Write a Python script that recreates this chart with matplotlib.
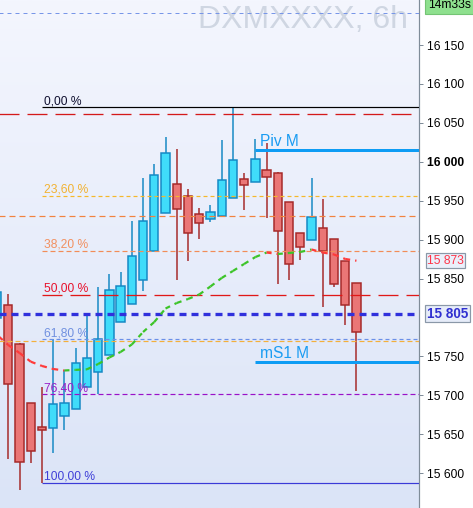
import numpy as np
import matplotlib
matplotlib.use('Agg')
import matplotlib.pyplot as plt
from matplotlib.patches import Rectangle
from matplotlib.collections import LineCollection
from matplotlib.colors import LinearSegmentedColormap

plt.rcParams['font.family'] = ['Liberation Sans', 'DejaVu Sans']
plt.rcParams['lines.scale_dashes'] = False

# ---------------- data ----------------
idx = list(range(-1, 32))
opens = [15799, 15816, 15766, 15690, 15659.5, 15658, 15673, 15682, 15711, 15730,
         15751.5, 15794, 15817, 15848, 15885, 15934, 15972, 15956, 15932.6, 15927,
         15931, 15953, 15977.5, 15974, 15989, 15985, 15948, 15908, 15899, 15914.6,
         15900.5, 15872, 15844]
highs = [15836, 15830, 15767, 15690, 15711, 15772, 15733, 15760.5, 15802, 15839,
         15856, 15858, 15924, 15979, 15997, 16031.5, 16016, 15965, 15941, 15944.5,
         16028, 16070, 15986, 16029, 16024, 15986.5, 15948, 15908, 15979, 15952,
         15900.5, 15872, 15844]
lows = [15795, 15618, 15578.5, 15613, 15588, 15626, 15655, 15682, 15711, 15702,
        15751.5, 15794, 15817, 15834.5, 15885, 15934, 15848, 15873, 15901, 15923,
        15931, 15953, 15938, 15974, 15928, 15843.5, 15848.6, 15874, 15899, 15814,
        15839, 15791, 15706]
closes = [15833, 15715, 15615, 15628, 15655, 15689, 15690, 15741, 15748, 15773,
          15836, 15840.5, 15879, 15923.6, 15983, 16011, 15939, 15908, 15922, 15935,
          15976, 16002, 15970, 16003, 15981, 15911, 15868.4, 15890, 15929, 15886,
          15843, 15816, 15781]
ma = [15777.6, 15764.7, 15754.5, 15743.3, 15737.8, 15733.9, 15732.0, 15732.8, 15733.5,
      15740.3, 15748.7, 15755.8, 15765.4, 15781.4, 15794.3, 15811.6, 15818.7, 15823.8,
      15829.6, 15839.9, 15850.8, 15859.8, 15868.8, 15877.7, 15883.5, 15881.6, 15882.9,
      15884.2, 15887.4, 15883.5, 15881.0, 15875.2, 15873.0]

fib_high = 16070
fib_low = 15588
fib_start = 3
fib_pcts = [0.0, 23.6, 38.2, 50.0, 61.8, 76.4, 100.0]
fib_labels = ['0,00 %', '23,60 %', '38,20 %', '50,00 %', '61,80 %', '76,40 %', '100,00 %']

top_level = 16191
red_level = 16061.6
orange_level = 15930
yellow_level = 15770
pivot_names = ['Piv M', 'mS1 M']
pivot_values = [16015.7, 15742.8]
pivot_start = 22
current_price = 15805
ma_last_value = 15873
price_ticks = [15600, 15650, 15700, 15750, 15850, 15900, 15950, 16000, 16050, 16100, 16150]
watermark = 'DXMXXXX, 6h'
timer = '14m33s'

# ---------------- figure ----------------
W, H = 473, 508
PX = 72 / 100.0  # points per pixel

fig = plt.figure(figsize=(W / 100, H / 100), dpi=100)
fig.patch.set_facecolor('white')
ax = fig.add_axes([0, 0, 419 / W, 1])

cmap = LinearSegmentedColormap.from_list('bg', ['#f4f6fe', '#dbe4f7'])
grad = np.linspace(0, 1, 256).reshape(-1, 1)
ax.imshow(grad, extent=[0, 1, 0, 1], transform=ax.transAxes, aspect='auto',
          cmap=cmap, zorder=0, interpolation='bilinear')

# watermark
ax.text(408 / W, 1 - 28.3 / H, watermark, transform=fig.transFigure, ha='right',
        va='baseline', fontsize=32 * PX, color='#cfd6e2', zorder=1)

XR = 40


def hline(y, x0, color, lw, dashes=None, z=5):
    ls = '-' if dashes is None else (0, tuple(d * PX for d in dashes))
    ax.plot([x0, XR], [y, y], color=color, lw=lw * PX, linestyle=ls, zorder=z,
            solid_capstyle='butt', dash_capstyle='butt')


# candles
bw = 0.74
for x, o, h, l, c in zip(idx, opens, highs, lows, closes):
    bull = c >= o
    fc = '#40dcfa' if bull else '#ea7676'
    ec = '#1488c4' if bull else '#a52828'
    ax.vlines(x, l, h, color=ec, lw=1.5 * PX, zorder=2)
    ax.add_patch(Rectangle((x - bw / 2, min(o, c)), bw, abs(c - o), fc=fc, ec=ec,
                           lw=1.5 * PX, zorder=3))

# full-width levels
hline(top_level, -2, '#7896e8', 1, (4, 4))
hline(red_level, -2, '#d41a1a', 1.3, (20, 8))
hline(orange_level, -2, '#f2823e', 1.2, (6, 4))
hline(yellow_level, -2, '#f4b03c', 1.2, (5, 3))

# fibonacci
fib_colors = ['#000000', '#f5b82a', '#f28c58', '#e01818', '#6a90e8', '#9a12c8', '#3a3ad8']
fib_text_colors = ['#101030', '#f2b232', '#f29060', '#e8102a', '#7090e0', '#9a20c8', '#4040d8']
fib_styles = [None, (4, 3), (5, 3), (20, 8), (4, 3), (5, 3), None]
fib_lw = [1.2, 1.2, 1.2, 1.3, 1.2, 1.2, 1.2]
for p, lab, col, tcol, st, lw in zip(fib_pcts, fib_labels, fib_colors, fib_text_colors,
                                     fib_styles, fib_lw):
    lvl = fib_high - p / 100.0 * (fib_high - fib_low)
    hline(lvl, fib_start, col, lw, st)
    ax.annotate(lab, xy=(fib_start, lvl), xytext=(2, 3), textcoords='offset pixels',
                ha='left', va='baseline', fontsize=12 * PX, color=tcol, zorder=7)

# pivots
for name, v in zip(pivot_names, pivot_values):
    hline(v, pivot_start, '#0e9cf4', 3)
    ax.annotate(name, xy=(pivot_start, v), xytext=(5, 4), textcoords='offset pixels',
                ha='left', va='baseline', fontsize=15.5 * PX, color='#1a9cf2', zorder=7)

# current price line
hline(current_price, -2, '#3030dc', 3.3, (7, 5), z=6)

# moving average
segs = [[(idx[i], ma[i]), (idx[i + 1], ma[i + 1])] for i in range(len(ma) - 1)]
cols = ['#3cc428' if ma[i + 1] >= ma[i] else '#ff3a3a' for i in range(len(ma) - 1)]
lc = LineCollection(segs, colors=cols, linewidths=2.2 * PX,
                    linestyles=[(0, (5 * PX, 5 * PX))], zorder=6)
ax.add_collection(lc)

# axis
ax.set_xlim(-0.74, 36.57)
ax.set_ylim(15555.4, 16207.8)
ax.set_xticks([])
ax.yaxis.tick_right()
ax.set_yticks(price_ticks)
ax.set_yticklabels([f'{v:,}'.replace(',', ' ') for v in price_ticks])
ax.tick_params(axis='y', length=4 * PX, width=1 * PX, color='#7f8c99', pad=4 * PX,
               labelsize=12 * PX, labelcolor='black')
for lbl, v in zip(ax.get_yticklabels(), price_ticks):
    if v == 16000:
        lbl.set_fontweight('bold')
for s in ['left', 'top', 'bottom']:
    ax.spines[s].set_visible(False)
ax.spines['right'].set_color('#7f8c99')
ax.spines['right'].set_linewidth(1.2 * PX)

# right-side price boxes
ax.annotate(f'{ma_last_value:,}'.replace(',', ' '), xy=(1, ma_last_value),
            xycoords=('axes fraction', 'data'), xytext=(8, 0), textcoords='offset pixels',
            ha='left', va='center', fontsize=12 * PX, color='#ff3448',
            bbox=dict(boxstyle='square,pad=0.12', fc='#eaf0fb', ec='#8a98a8', lw=1.2 * PX),
            annotation_clip=False, zorder=10)
ax.annotate(f'{current_price:,}'.replace(',', ' '), xy=(1, current_price),
            xycoords=('axes fraction', 'data'), xytext=(8, 0), textcoords='offset pixels',
            ha='left', va='center', fontsize=13.5 * PX, color='#3030d0', fontweight='bold',
            bbox=dict(boxstyle='square,pad=0.12', fc='#e6ecf9', ec='#8a98a8', lw=1.2 * PX),
            annotation_clip=False, zorder=10)

fig.text(428 / W, 1 - 8.3 / H, timer, ha='left', va='baseline', fontsize=12 * PX,
         color='black',
         bbox=dict(boxstyle='square,pad=0.25', fc='#8ee08e', ec='#74c474', lw=0.8))

fig.savefig('out.png', dpi=100)
